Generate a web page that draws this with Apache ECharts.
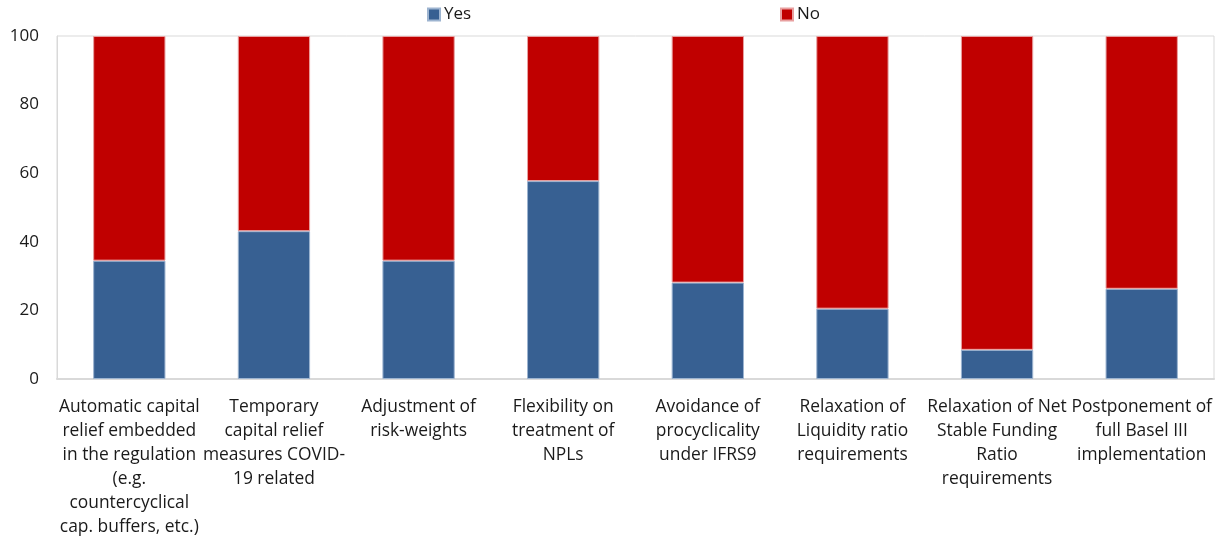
<!DOCTYPE html>
<html>
<head>
<meta charset="utf-8">
<script src="https://cdn.jsdelivr.net/npm/echarts@6/dist/echarts.min.js"></script>
<style>html,body{margin:0;padding:0;background:#fff}#c{width:1225px;height:541px}</style>
</head>
<body>
<div id="c"></div>
<script>
const categories = [
  "Automatic capital\nrelief embedded\nin the regulation\n(e.g.\ncountercyclical\ncap. buffers, etc.)",
  "Temporary\ncapital relief\nmeasures COVID-\n19 related",
  "Adjustment of\nrisk-weights",
  "Flexibility on\ntreatment of\nNPLs",
  "Avoidance of\nprocyclicality\nunder IFRS9",
  "Relaxation of\nLiquidity ratio\nrequirements",
  "Relaxation of Net\nStable Funding\nRatio\nrequirements",
  "Postponement of\nfull Basel III\nimplementation"
];
const yesValues = [34.5, 43.1, 34.5, 57.7, 28.1, 20.5, 8.5, 26.3];
const noValues = yesValues.map(v => +(100 - v).toFixed(1));
const yTicks = [0, 20, 40, 60, 80, 100];

const FONT = "Open Sans";
const chart = echarts.init(document.getElementById('c'));
chart.setOption({
  animation: false,
  textStyle: { fontFamily: FONT },
  legend: [
    { data: ['Yes'], left: 422, top: 1, itemWidth: 12, itemHeight: 12, icon: 'rect',
      textStyle: { fontSize: 17, color: '#1a1a1a', fontFamily: FONT, padding: [0, 0, 0, -1] } },
    { data: ['No'], left: 775, top: 1, itemWidth: 12, itemHeight: 12, icon: 'rect',
      textStyle: { fontSize: 17, color: '#1a1a1a', fontFamily: FONT, padding: [0, 0, 0, -1] } }
  ],
  grid: { left: 57, right: 11, top: 36, bottom: 162, show: true, borderColor: '#d9d9d9', borderWidth: 1 },
  xAxis: {
    type: 'category',
    data: categories,
    axisLine: { show: true, lineStyle: { color: '#d9d9d9', width: 2 } },
    axisTick: { show: false },
    axisLabel: { interval: 0, fontSize: 17.4, lineHeight: 24, color: '#1a1a1a', margin: 16, fontFamily: FONT }
  },
  yAxis: {
    type: 'value', min: 0, max: 100, interval: 20,
    axisLine: { show: true, lineStyle: { color: '#d9d9d9' } },
    axisTick: { show: false },
    splitLine: { show: false },
    axisLabel: { fontSize: 17, color: '#1a1a1a', margin: 18, fontFamily: FONT,
      formatter: v => yTicks.includes(v) ? String(v) : '' }
  },
  series: [
    { name: 'Yes', type: 'bar', stack: 'a', data: yesValues, barWidth: '50%',
      itemStyle: { color: '#376092', borderColor: '#9db4d0', borderWidth: 1 } },
    { name: 'No', type: 'bar', stack: 'a', data: noValues, barWidth: '50%',
      itemStyle: { color: '#c00000', borderColor: '#e8a0a0', borderWidth: 1 } }
  ]
});
</script>
</body>
</html>
